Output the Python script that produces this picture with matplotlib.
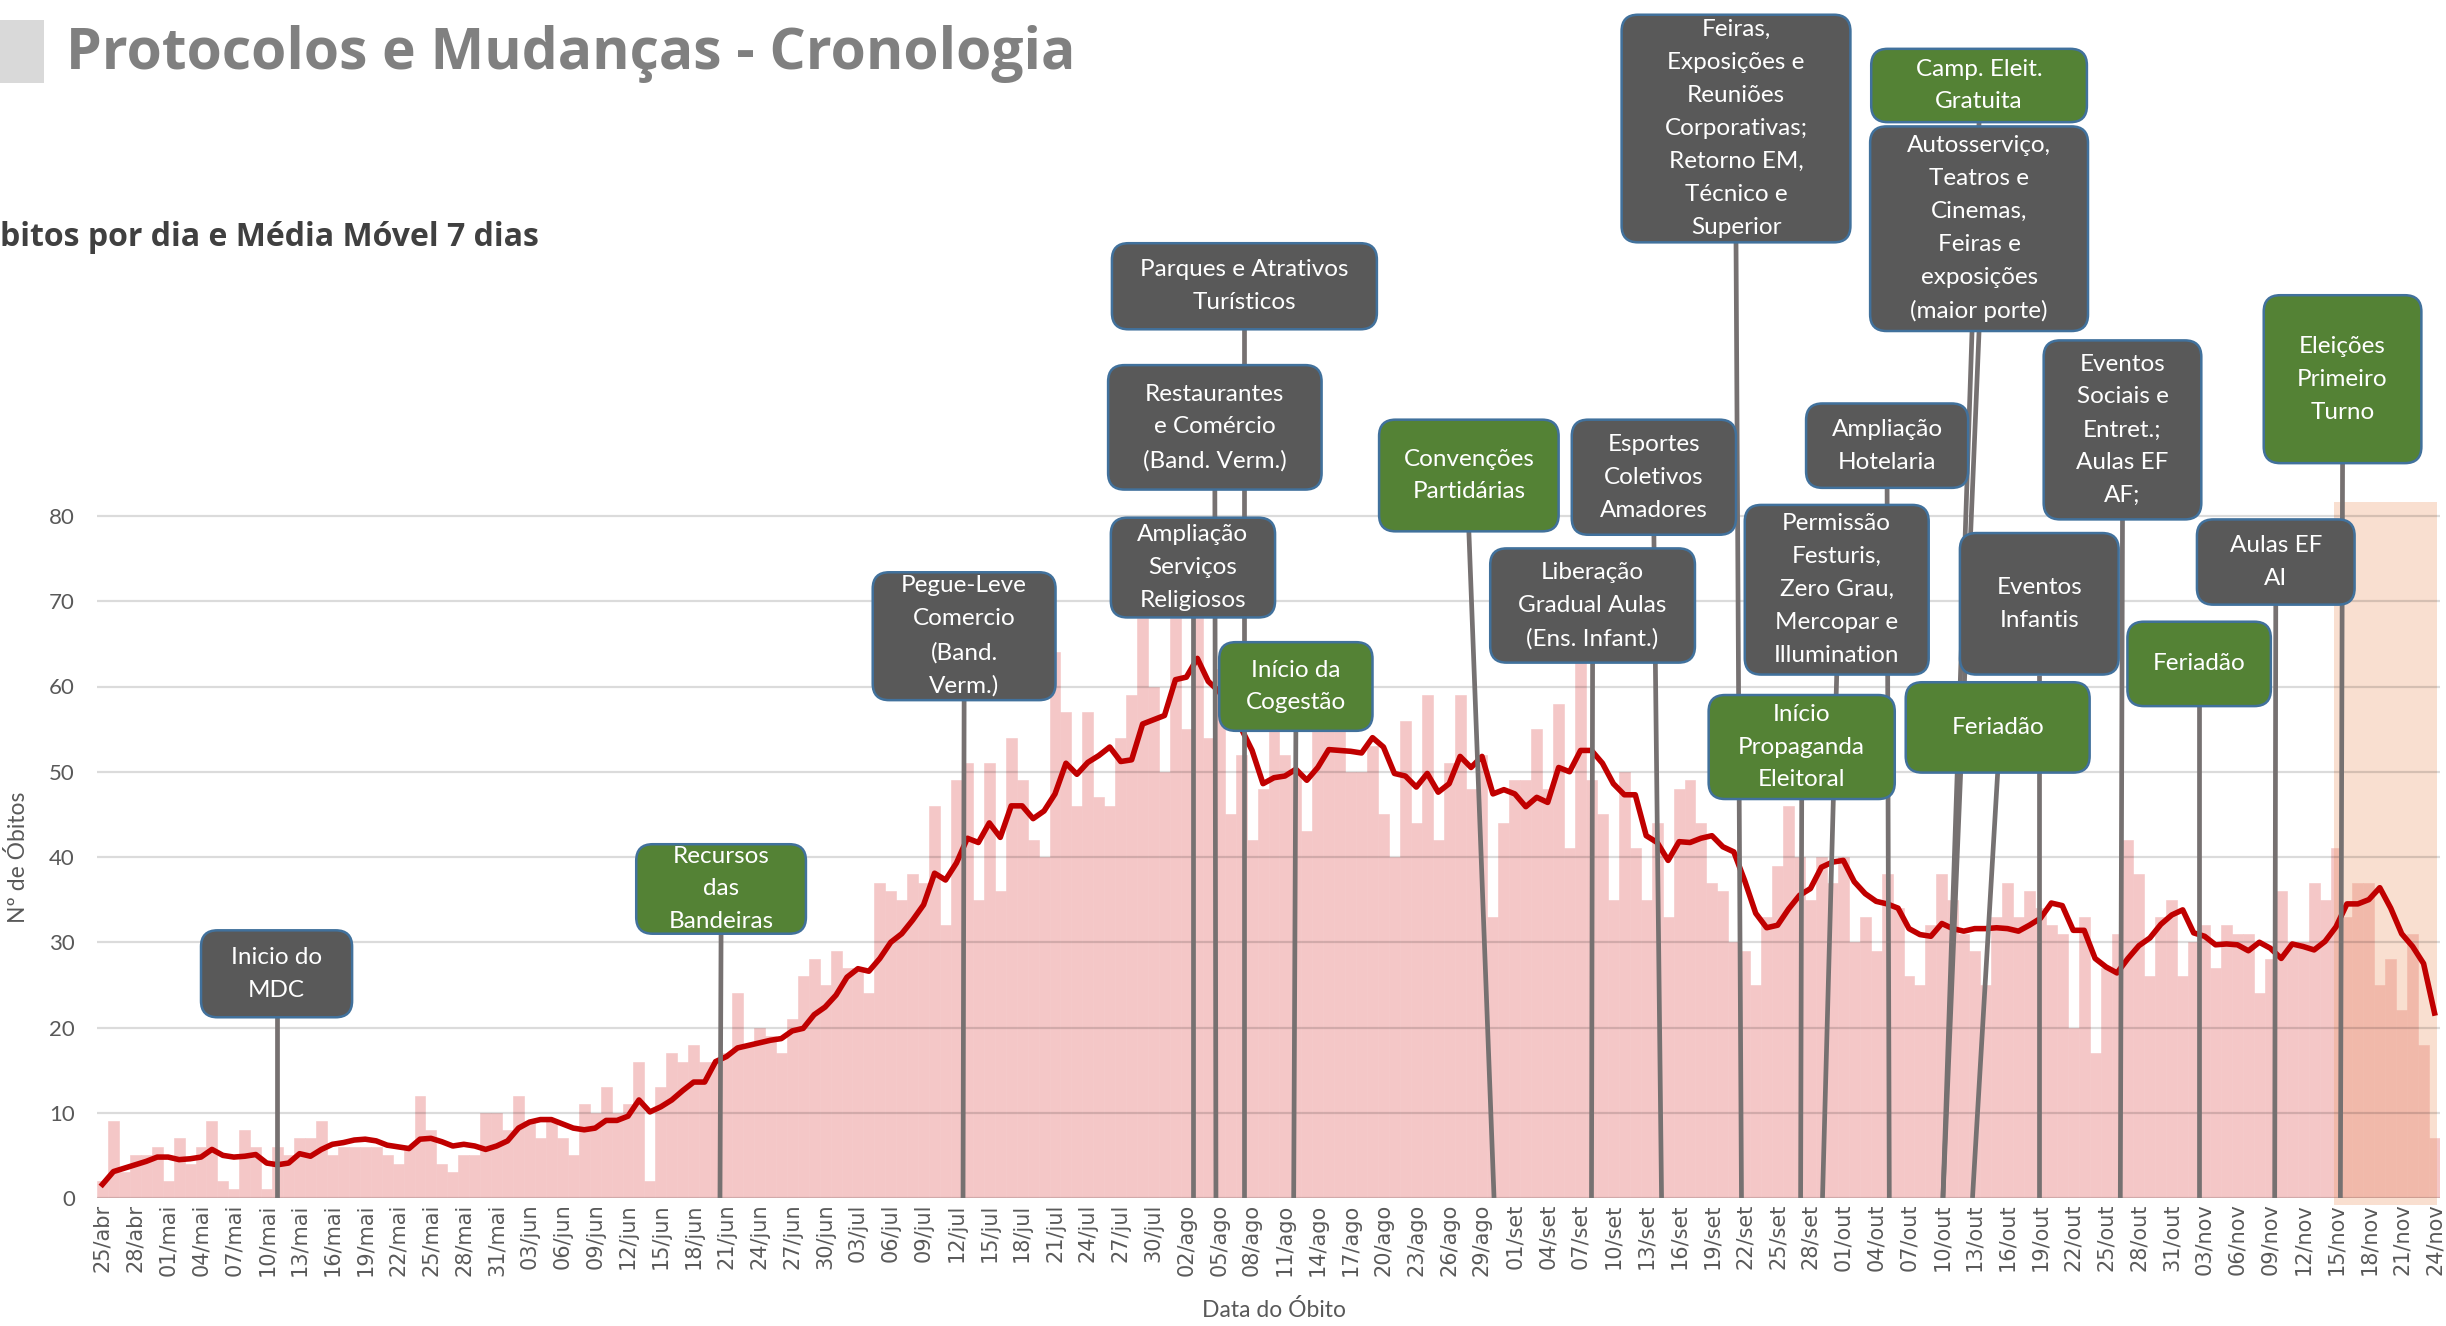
import matplotlib
matplotlib.use('Agg')
import matplotlib.pyplot as plt
from matplotlib.patches import FancyBboxPatch, Rectangle
import pandas as pd

# obitos por dia, 25/abr a 24/nov (2020)
obitos = [
    2, 9, 3, 5, 5, 6, 2, 7, 4, 6, 9, 2, 1, 8, 6, 1, 6, 5, 7, 7,
    9, 5, 6, 6, 6, 6, 5, 4, 6, 12, 8, 4, 3, 5, 5, 10, 10, 8, 12, 9,
    7, 9, 7, 5, 11, 10, 13, 10, 11, 16, 2, 13, 17, 16, 18, 16, 16, 17, 24, 18,
    20, 19, 17, 21, 26, 28, 25, 29, 27, 27, 24, 37, 36, 35, 38, 37, 46, 32, 49, 51,
    35, 51, 36, 54, 49, 42, 40, 64, 57, 46, 57, 47, 46, 54, 59, 68, 60, 50, 68, 55,
    68, 54, 62, 45, 52, 42, 48, 55, 52, 50, 43, 55, 55, 55, 50, 50, 53, 45, 40, 56,
    44, 59, 42, 51, 59, 48, 52, 33, 44, 49, 49, 55, 48, 58, 41, 63, 49, 45, 35, 50,
    41, 35, 44, 33, 48, 49, 44, 37, 36, 30, 29, 25, 33, 39, 46, 40, 35, 40, 37, 40,
    30, 33, 29, 38, 34, 26, 25, 32, 38, 35, 31, 29, 25, 33, 37, 33, 36, 34, 32, 31,
    20, 33, 17, 27, 31, 42, 38, 26, 33, 35, 26, 30, 32, 27, 32, 31, 31, 24, 28, 36,
    30, 30, 37, 35, 41, 33, 37, 37, 25, 28, 22, 31, 18, 7,
]

# media movel 7 dias
media_movel = [
    1.6, 3.1, 3.5, 3.9, 4.3, 4.8, 4.8, 4.5, 4.6, 4.8, 5.7, 5.0, 4.8, 4.9, 5.1, 4.1, 3.9, 4.1, 5.2, 4.9,
    5.7, 6.3, 6.5, 6.8, 6.9, 6.7, 6.2, 6.0, 5.8, 6.9, 7.0, 6.6, 6.1, 6.3, 6.1, 5.7, 6.1, 6.7, 8.2, 8.9,
    9.2, 9.2, 8.7, 8.2, 8.0, 8.2, 9.1, 9.1, 9.6, 11.5, 10.1, 10.7, 11.5, 12.6, 13.6, 13.6, 16.0, 16.6, 17.6, 17.9,
    18.2, 18.5, 18.7, 19.6, 19.9, 21.5, 22.4, 23.8, 25.9, 26.9, 26.6, 28.1, 30.0, 31.0, 32.6, 34.4, 38.1, 37.3, 39.3, 42.2,
    41.7, 44.0, 42.3, 46.0, 46.0, 44.5, 45.4, 47.4, 51.0, 49.7, 51.1, 51.9, 52.9, 51.2, 51.4, 55.6, 56.1, 56.6, 60.8, 61.1,
    63.3, 60.6, 59.4, 57.0, 55.1, 52.5, 48.6, 49.3, 49.5, 50.3, 49.0, 50.5, 52.6, 52.5, 52.4, 52.2, 54.0, 52.9, 49.8, 49.5,
    48.2, 49.8, 47.6, 48.6, 51.8, 50.5, 51.8, 47.4, 47.9, 47.4, 45.9, 47.0, 46.4, 50.5, 50.0, 52.5, 52.5, 51.0, 48.6, 47.3,
    47.3, 42.5, 41.7, 39.6, 41.8, 41.7, 42.2, 42.5, 41.2, 40.6, 37.2, 33.4, 31.7, 32.0, 33.9, 35.5, 36.3, 38.8, 39.4, 39.6,
    37.1, 35.7, 34.8, 34.5, 34.0, 31.6, 30.9, 30.7, 32.2, 31.6, 31.3, 31.6, 31.6, 31.7, 31.6, 31.3, 32.0, 32.8, 34.6, 34.3,
    31.4, 31.4, 28.1, 27.1, 26.4, 28.1, 29.6, 30.5, 32.1, 33.2, 33.8, 31.1, 30.7, 29.7, 29.8, 29.7, 29.0, 30.0, 29.3, 28.1,
    29.8, 29.5, 29.1, 30.1, 31.8, 34.5, 34.5, 35.0, 36.4, 34.0, 31.0, 29.5, 27.5, 21.7,
]

meses = {4: 'abr', 5: 'mai', 6: 'jun', 7: 'jul', 8: 'ago', 9: 'set', 10: 'out', 11: 'nov'}
datas = pd.date_range('2020-04-25', '2020-11-24', freq='D')

eventos = [
    'Inicio do\nMDC',
    'Recursos\ndas\nBandeiras',
    'Pegue-Leve\nComercio\n(Band.\nVerm.)',
    'Parques e Atrativos\nTurísticos',
    'Restaurantes\ne Comércio\n(Band. Verm.)',
    'Ampliação\nServiços\nReligiosos',
    'Início da\nCogestão',
    'Convenções\nPartidárias',
    'Esportes\nColetivos\nAmadores',
    'Liberação\nGradual Aulas\n(Ens. Infant.)',
    'Feiras,\nExposições e\nReuniões\nCorporativas;\nRetorno EM,\nTécnico e\nSuperior',
    'Permissão\nFesturis,\nZero Grau,\nMercopar e\nIllumination',
    'Início\nPropaganda\nEleitoral',
    'Ampliação\nHotelaria',
    'Camp. Eleit.\nGratuita',
    'Autosserviço,\nTeatros e\nCinemas,\nFeiras e\nexposições\n(maior porte)',
    'Feriadão',
    'Eventos\nInfantis',
    'Eventos\nSociais e\nEntret.;\nAulas EF\nAF;',
    'Aulas EF\nAI',
    'Feriadão',
    'Eleições\nPrimeiro\nTurno',
]
# dia (indice a partir de 25/abr) apontado por cada evento
evento_dia = [15.9, 56.4, 78.6, 104.3, 101.7, 99.6, 108.8, 127.1, 142.4, 136.0, 149.7,
              157.1, 155.1, 163.2, 168.1, 168.1, 170.8, 176.9, 184.3, 198.4, 191.5, 204.4]
# p = protocolo (cinza), o = outro (verde)
evento_tipo = ['p', 'o', 'p', 'p', 'p', 'p', 'o', 'o', 'p', 'p', 'p',
               'p', 'o', 'p', 'o', 'p', 'o', 'p', 'p', 'p', 'o', 'o']

# layout das caixas: centro x, largura, base, topo
caixas = [
    (15.9, 13.8, 21.2, 31.4), (56.5, 15.5, 31.0, 41.5), (78.7, 16.7, 58.4, 73.4),
    (104.3, 24.2, 101.9, 112.0), (101.6, 19.5, 83.1, 97.7), (99.6, 15.0, 68.1, 79.8),
    (109.0, 14.0, 54.8, 65.2), (124.8, 16.4, 78.2, 91.3), (141.7, 15.0, 77.8, 91.3),
    (136.1, 18.7, 62.8, 76.2), (149.2, 20.9, 112.1, 138.8), (158.4, 16.8, 61.4, 81.3),
    (155.2, 17.0, 46.8, 59.0), (163.0, 14.8, 83.3, 93.2), (171.4, 19.7, 126.2, 134.8),
    (171.4, 19.9, 101.7, 125.7), (173.1, 16.8, 49.9, 60.5), (176.9, 14.5, 61.4, 78.0),
    (184.5, 14.4, 79.6, 100.6), (198.5, 14.4, 69.6, 79.6), (191.5, 13.1, 57.7, 67.6),
    (204.6, 14.4, 86.2, 105.9),
]
cores_tipo = {'p': '#595959', 'o': '#548235'}

W_PX, H_PX = 2446, 1326
fig = plt.figure(figsize=(W_PX / 100, H_PX / 100), dpi=100)
left, right, base = 97, 2440, 1198
ymax = base / 8.525
ax = fig.add_axes([left / W_PX, (H_PX - base) / H_PX, (right - left) / W_PX, base / H_PX])

x = list(range(len(obitos)))
ax.bar(x, obitos, width=1.0, color='#F4C7C7', edgecolor='#F4C7C7', linewidth=0.4, zorder=2)
for v in range(0, 81, 10):
    ax.axhline(v, color='black', alpha=0.14, lw=1.6, zorder=2.8)
ax.plot(x, media_movel, color='#C00000', lw=4.0, zorder=3, solid_joinstyle='round')

ax.set_xlim(-0.5, len(obitos) - 0.5)
ax.set_ylim(0, ymax)
for s in ax.spines.values():
    s.set_visible(False)

ax.set_yticks(range(0, 81, 10))
ax.tick_params(axis='y', length=0, pad=16, labelsize=16, labelcolor='#595959')
for lab in ax.get_yticklabels():
    lab.set_family(['Lato', 'DejaVu Sans'])
ax.set_xticks(x[::3])
ax.set_xticklabels(['{:02d}/{}'.format(d.day, meses[d.month]) for d in datas[::3]],
                   rotation=90, fontsize=15, color='#595959', family='DejaVu Sans')
ax.tick_params(axis='x', length=0, pad=4)

ax.set_ylabel('Nº de Óbitos', fontsize=16.5, color='#595959', family=['Lato', 'DejaVu Sans'])
ax.yaxis.set_label_coords(-0.029, 40 / ymax)
fig.text(1274 / W_PX, 1 - 1310 / H_PX, 'Data do Óbito', fontsize=16.5, color='#595959',
         family=['Lato', 'DejaVu Sans'], ha='center', va='center')

# periodo destacado
ax.add_patch(Rectangle((203.8, -0.8), 9.45, 82.4, facecolor='#ED9E6F', alpha=0.32,
                       lw=0, zorder=2.7, clip_on=False))

# proporcao px para manter cantos arredondados circulares
px_x = (right - left) / len(obitos)
px_y = base / ymax
asp = px_x / px_y

for texto, dia, tipo, (cx, w, y0, y1) in zip(eventos, evento_dia, evento_tipo, caixas):
    ax.plot([cx, dia], [y0, 0], color='#767171', lw=3.4, zorder=4, solid_capstyle='butt')
    caixa = FancyBboxPatch((cx - w / 2, y0), w, y1 - y0,
                           boxstyle='round,pad=0,rounding_size=1.5', mutation_aspect=asp,
                           facecolor=cores_tipo[tipo], edgecolor='#41719C', lw=1.8, zorder=5)
    ax.add_patch(caixa)
    ax.text(cx, (y0 + y1) / 2, texto, ha='center', va='center', color='white', fontsize=17.5,
            linespacing=1.7, family=['Lato', 'DejaVu Sans'], zorder=6)

# titulo
fig.patches.append(Rectangle((0, 1 - 83 / H_PX), 44 / W_PX, 63 / H_PX, transform=fig.transFigure,
                             facecolor='#D9D9D9', lw=0))
fig.text(66 / W_PX, 1 - 54 / H_PX, 'Protocolos e Mudanças - Cronologia', fontsize=41,
         fontweight='bold', color='#808080', family=['Open Sans', 'DejaVu Sans'], va='center')
fig.text(0, 1 - 237 / H_PX, 'bitos por dia e Média Móvel 7 dias', fontsize=23,
         fontweight='bold', color='#404040', family=['Open Sans', 'DejaVu Sans'], va='center')

plt.savefig('out.png', dpi=100)
plt.close('all')
